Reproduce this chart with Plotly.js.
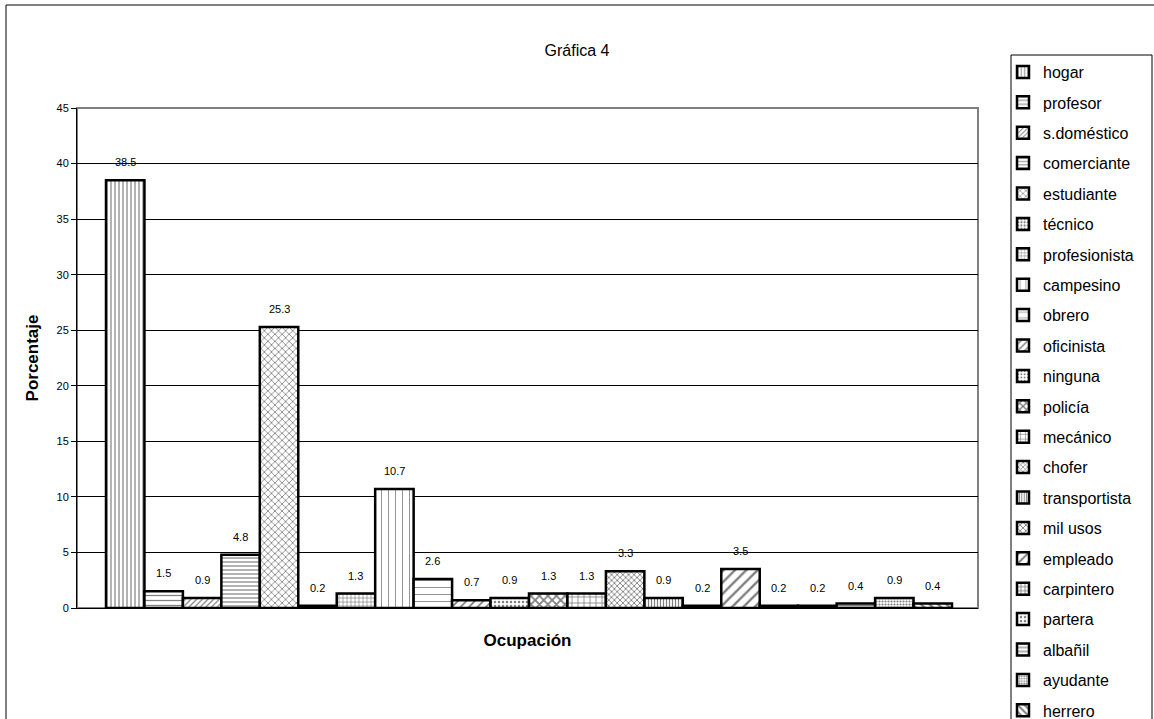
<!DOCTYPE html>
<html><head><meta charset="utf-8">
<script src="https://cdn.plot.ly/plotly-3.0.1.min.js"></script>
<style>html,body{margin:0;padding:0;background:#fff}#chart{width:1154px;height:719px}</style>
</head><body><div id="chart"></div>
<script>
const categories = ["hogar","profesor","s.doméstico","comerciante","estudiante","técnico","profesionista","campesino","obrero","oficinista","ninguna","policía","mecánico","chofer","transportista","mil usos","empleado","carpintero","partera","albañil","ayudante","herrero"];
const values = [38.5,1.5,0.9,4.8,25.3,0.2,1.3,10.7,2.6,0.7,0.9,1.3,1.3,3.3,0.9,0.2,3.5,0.2,0.2,0.4,0.9,0.4];
const yTicks = [0,5,10,15,20,25,30,35,40,45];
const chartTitle = "Gráfica 4";
const xTitle = "Ocupación";
const yTitle = "Porcentaje";

// pattern styles (appearance only)
const patterns = [
  {shape:"|", size:4, solidity:0.3},
  {shape:"-", size:5, solidity:0.25},
  {shape:"/", size:4, solidity:0.3},
  {shape:"-", size:4, solidity:0.3},
  {shape:"x", size:5, solidity:0.3},
  {shape:".", size:4, solidity:0.4},
  {shape:"+", size:4, solidity:0.3},
  {shape:"|", size:7, solidity:0.12},
  {shape:"-", size:7, solidity:0.12},
  {shape:"/", size:6, solidity:0.3},
  {shape:".", size:4, solidity:0.3},
  {shape:"x", size:6, solidity:0.5},
  {shape:"+", size:6, solidity:0.25},
  {shape:"x", size:4, solidity:0.4},
  {shape:"|", size:3, solidity:0.4},
  {shape:"x", size:5, solidity:0.4},
  {shape:"/", size:8, solidity:0.3},
  {shape:"+", size:5, solidity:0.4},
  {shape:".", size:5, solidity:0.3},
  {shape:"-", size:5, solidity:0.3},
  {shape:".", size:3, solidity:0.4},
  {shape:"\\", size:6, solidity:0.4}
];

const FONT = "Liberation Sans, Arial, sans-serif";
const traces = categories.map((c, i) => ({
  type: "bar",
  name: c,
  legendgroup: "g" + i,
  x: [i],
  y: [values[i]],
  width: 1,
  marker: {
    color: "white",
    line: {color: "black", width: 2.5},
    pattern: Object.assign({fgcolor: "black", bgcolor: "white", fillmode: "overlay"}, patterns[i])
  },
  hoverinfo: "name+y"
}));

const annotations = categories.map((c, i) => ({
  x: i, y: values[i], xref: "x", yref: "y",
  text: String(values[i]), showarrow: false,
  yshift: 18, font: {family: FONT, size: 11, color: "black"}
}));

const pw = 901, ph = 500, L = 77, T = 108;
const px = v => (v - L) / pw;
const py = v => (T + ph - v) / ph;

const layout = {
  width: 1154, height: 719,
  margin: {l: 77, r: 176, t: 108, b: 111, autoexpand: false},
  paper_bgcolor: "white", plot_bgcolor: "white",
  font: {family: FONT, color: "black"},
  title: {text: chartTitle, font: {family: FONT, size: 16, color: "black"}, xref: "container", x: 0.5, xanchor: "center", yref: "container", y: 1 - 50/719, yanchor: "middle"},
  barmode: "overlay",
  xaxis: {
    range: [-1.254, 22.176], showticklabels: false, ticks: "", showgrid: false, zeroline: false,
    showline: true, linecolor: "black", linewidth: 1,
    title: {text: xTitle, font: {family: FONT, size: 17, color: "black", weight: "bold"}, standoff: 26}
  },
  yaxis: {
    range: [0, 45], tickvals: yTicks, ticks: "outside", ticklen: 5, tickcolor: "black", tickwidth: 1,
    tickfont: {family: FONT, size: 11, color: "black"},
    showline: true, linecolor: "black", linewidth: 1,
    showgrid: true, gridcolor: "black", gridwidth: 1, zeroline: false,
    title: {text: yTitle, font: {family: FONT, size: 17, color: "black", weight: "bold"}, standoff: 13}
  },
  legend: {
    x: px(1003), xanchor: "left", y: py(55), yanchor: "top",
    font: {family: FONT, size: 16, color: "black"},
    bgcolor: "rgba(0,0,0,0)", borderwidth: 0,
    tracegroupgap: 6.6, maxheight: 1000, traceorder: "grouped"
  },
  annotations: annotations,
  shapes: [
    {type: "rect", xref: "paper", yref: "paper", x0: 0, x1: 1, y0: 0, y1: 1, line: {color: "#808080", width: 2}, layer: "below"},
    {type: "rect", xref: "paper", yref: "paper", x0: px(1011), x1: px(1152), y0: py(55), y1: py(740), line: {color: "black", width: 1}},
    {type: "rect", xref: "paper", yref: "paper", x0: px(6), x1: px(1170), y0: py(5), y1: py(740), line: {color: "black", width: 1}}
  ],
  showlegend: true
};

Plotly.newPlot("chart", traces, layout, {displayModeBar: false, staticPlot: true});
</script>
</body></html>
